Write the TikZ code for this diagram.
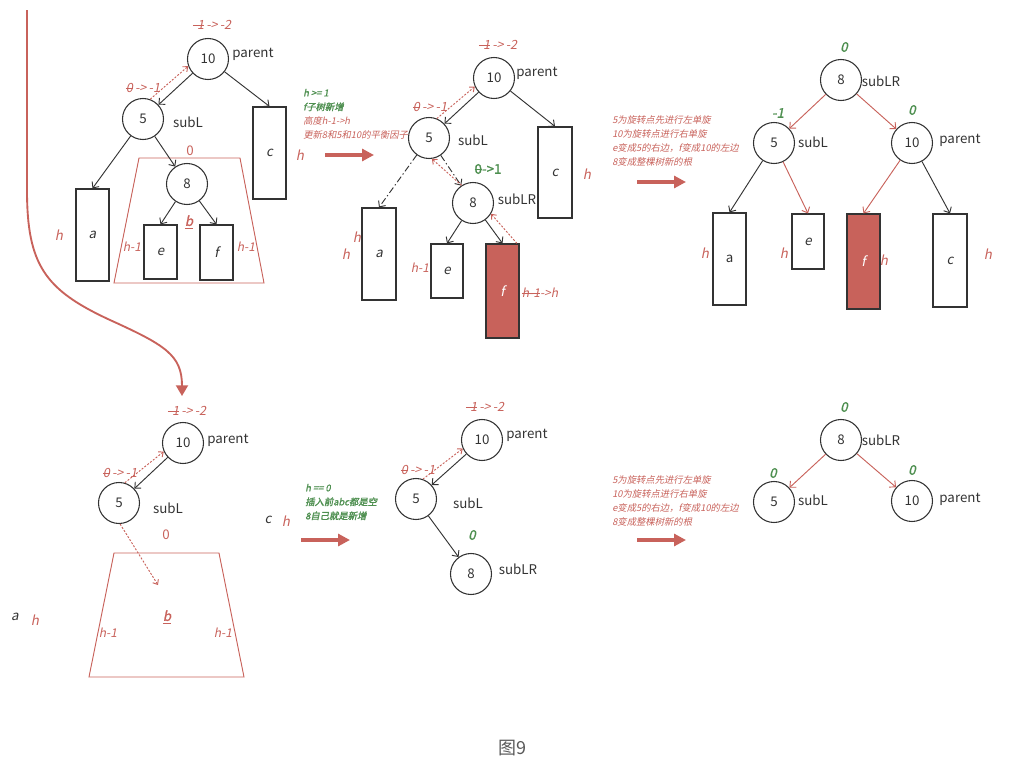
\documentclass[tikz,border=0pt]{standalone}
\usepackage{fontspec}
\setmainfont{Noto Sans CJK SC}[
  ItalicFont=Noto Sans CJK SC, ItalicFeatures={FakeSlant=0.2},
  BoldFont=Noto Sans CJK SC, BoldFeatures={FakeBold=1.5},
  BoldItalicFont=Noto Sans CJK SC, BoldItalicFeatures={FakeSlant=0.2,FakeBold=1.5}]
\usepackage{tikz}
\usetikzlibrary{arrows.meta}
\definecolor{rosso}{HTML}{C8625B}
\definecolor{verde}{HTML}{4E8F50}
\definecolor{ink}{HTML}{333333}
\newcommand{\strk}[1]{\begingroup\setbox0\hbox{#1}%
  \rlap{\rule[0.6ex]{\wd0}{0.5pt}}\box0\endgroup}
\newcommand{\bfchg}[2]{\strk{#1}\,->\,#2}

\begin{document}
\begin{tikzpicture}[
      x=0.75pt, y=-0.75pt,
      font=\fontsize{10}{12}\selectfont,
      nd/.style={circle, draw=ink, line width=0.8pt, minimum size=30.75pt,
                 inner sep=0pt, text=ink},
      sub/.style 2 args={draw=ink, line width=0.9pt, inner sep=0pt,
                 minimum width=#1*0.75pt, minimum height=#2*0.75pt,
                 text=ink, font=\fontsize{10}{12}\selectfont\itshape},
      fsub/.style 2 args={sub={#1}{#2}, fill=rosso, text=white},
      tr/.style={-{Straight Barb[length=3.5pt,width=6.5pt]}, line width=0.7pt, draw=ink},
      rtr/.style={tr, draw=rosso},
      ddtr/.style={tr, dash pattern=on 5pt off 2pt on 1pt off 2pt},
      dtr/.style={-{Straight Barb[length=3pt,width=5pt]}, draw=rosso,
                  dash pattern=on 1.5pt off 1.2pt, line width=0.7pt},
      big/.style={-{Triangle[length=9pt,width=9pt]}, draw=rosso, fill=rosso,
                  line width=2.3pt},
      nm/.style={text=ink},
      bf/.style={font=\fontsize{9.5}{11}\selectfont\itshape, text=rosso},
      ht/.style={font=\fontsize{10}{12}\selectfont\itshape, text=rosso},
      hm/.style={font=\fontsize{9}{11}\selectfont\itshape, text=rosso},
      gn/.style={font=\fontsize{10}{12}\selectfont\bfseries\itshape, text=verde},
      note/.style={font=\fontsize{7}{10.5}\selectfont\itshape, align=left,
                   anchor=west, inner xsep=0pt, text=rosso}
    ]
    \useasboundingbox (0,0) rectangle (1025,778);

    % ---- panel 1: before insertion, h >= 1
    \node[nd] (p1) at (208,59) {10};
    \node[nd] (l1) at (143,119) {5};
    \node[nd] (lr1) at (187,184) {8};
    \node[sub={33}{92}] (a1) at (92.5,235) {a};
    \node[sub={33}{92}] (c1) at (269.5,153) {c};
    \node[sub={33}{54}] (e1) at (160.5,252) {e};
    \node[sub={33}{55}] (f1) at (216.5,252.5) {f};
    \draw[rosso, line width=0.7pt] (139,158) -- (240,158) -- (264,283) -- (114,283) -- cycle;
    \draw[tr] (p1) -- (l1);
    \draw[tr] (p1) -- (c1.north);
    \draw[tr] (l1) -- (a1.north);
    \draw[tr] (l1) -- (lr1);
    \draw[tr] (lr1) -- (e1.north);
    \draw[tr] (lr1) -- (f1.north);
    \draw[dtr] (l1.70) -- (p1.200);
    \node[bf] (bp1) at (212,25) {\bfchg{-1}{-2}};
    \node[bf] (bl1) at (143,88) {\bfchg{0}{-1}};
    \node[nm] (np1) at (253,54) {parent};
    \node[nm] (nl1) at (188,122) {subL};
    \node[text=rosso] (z1) at (190,151) {0};
    \node[font=\fontsize{10}{12}\selectfont\bfseries\itshape, text=rosso] (b1) at (189,222) {\underline{b}};
    \node[ht] (ha1) at (59,235) {h};
    \node[ht] (hc1) at (300,155) {h};
    \node[hm] (he1) at (132,247) {h-1};
    \node[hm] (hf1) at (246,247) {h-1};

    % turn to the lower case
    \coordinate (cv0) at (27,10);
    \coordinate (cv1) at (182,396);
    \draw[rosso, line width=1.4pt, -{Triangle[length=8pt,width=9pt]}]
      (cv0) -- (27,190) .. controls (27,265) and (45,290) .. (110,320)
            .. controls (165,345) and (182,355) .. (cv1);

    % ---- panel 2: f grows to h
    \coordinate (ar2a) at (325,155);
    \coordinate (ar2b) at (374,155);
    \draw[big] (ar2a) -- (ar2b);
    \node[note] (nt2) at (303,114)
      {{\color{verde}\bfseries h >= 1}\\ {\color{verde}\bfseries f子树新增}\\
       高度h-1->h\\ 更新8和5和10的平衡因子};
    \node[nd] (p2) at (494,78) {10};
    \node[nd] (l2) at (429,138) {5};
    \node[nd] (lr2) at (473,203) {8};
    \node[sub={34}{92}] (a2) at (379,254) {a};
    \node[sub={34}{91}] (c2) at (555,172.5) {c};
    \node[sub={32}{54}] (e2) at (447,271) {e};
    \node[fsub={33}{94}] (f2) at (502.5,291) {f};
    \draw[tr] (p2) -- (l2);
    \draw[tr] (p2) -- (c2.north);
    \draw[ddtr] (l2) -- (a2.north);
    \draw[ddtr] (l2) -- (lr2);
    \draw[tr] (lr2) -- (e2.north);
    \draw[tr] (lr2) -- (f2.north);
    \draw[dtr] (l2.68) -- (p2.204);
    \draw[dtr] (lr2.123) -- (l2.-82);
    \draw[dtr] ([xshift=-2pt]f2.north east) -- (lr2.-31);
    \node[bf] (bp2) at (498,45) {\bfchg{-1}{-2}};
    \node[bf] (bl2) at (430,107) {\bfchg{0}{-1}};
    \node[font=\fontsize{10}{12}\selectfont\bfseries, text=verde] (blr2) at (488,169) {\strk{0}->1};
    \node[nm] (np2) at (537,73) {parent};
    \node[nm] (nl2) at (473,140) {subL};
    \node[nm] (nlr2) at (517,199) {subLR};
    \node[ht] (hc2) at (587,174) {h};
    \node[ht] (ha2) at (357,237) {h};
    \node[ht] (ha2b) at (346,254) {h};
    \node[hm] (he2) at (420,268) {h-1};
    \node[hm] (hf2) at (540,293) {\strk{h-1}->h};

    % ---- panel 3: double rotation result
    \coordinate (ar3a) at (637,182);
    \coordinate (ar3b) at (686,182);
    \draw[big] (ar3a) -- (ar3b);
    \node[note] (nt3) at (612,141)
      {5为旋转点先进行左单旋\\ 10为旋转点进行右单旋\\
       e变成5的右边，f变成10的左边\\ 8变成整棵树新的根};
    \node[nd] (lr3) at (841,80) {8};
    \node[nd] (l3) at (774,143) {5};
    \node[nd] (p3) at (912,143) {10};
    \node[sub={33}{92}, font=\fontsize{10}{12}\selectfont] (a3) at (729.5,259) {a};
    \node[sub={32}{55}] (e3) at (808,241.5) {e};
    \node[fsub={33}{95}] (f3) at (863.5,261.5) {f};
    \node[sub={34}{93}] (c3) at (950,260.5) {c};
    \draw[rtr] (lr3) -- (l3);
    \draw[rtr] (lr3) -- (p3);
    \draw[tr] (l3) -- (a3.north);
    \draw[rtr] (l3) -- (e3.north);
    \draw[rtr] (p3) -- (f3.north);
    \draw[tr] (p3) -- (c3.north);
    \node[gn] (blr3) at (844,47) {0};
    \node[gn] (bl3) at (778,113) {-1};
    \node[gn] (bp3) at (912,110) {0};
    \node[nm] (nlr3) at (881,81) {subLR};
    \node[nm] (nl3) at (813,142) {subL};
    \node[nm] (np3) at (960,140) {parent};
    \node[ht] (ha3) at (705,253) {h};
    \node[ht] (he3) at (784,253) {h};
    \node[ht] (hf3) at (884,260) {h};
    \node[ht] (hc3) at (988,254) {h};

    % ---- panel 4: before insertion, h == 0
    \node[nd] (p4) at (183,443) {10};
    \node[nd] (l4) at (119,503) {5};
    \coordinate (bt4) at (158,585);
    \draw[rosso, line width=0.7pt] (114,553) -- (219,553) -- (244,677) -- (89,677) -- cycle;
    \draw[tr] (p4) -- (l4);
    \draw[dtr] (l4.74) -- (p4.204);
    \draw[dtr] (l4.-87) -- (bt4);
    \node[bf] (bp4) at (187,411) {\bfchg{-1}{-2}};
    \node[bf] (bl4) at (120,473) {\bfchg{0}{-1}};
    \node[nm] (np4) at (228,440) {parent};
    \node[nm] (nl4) at (168,508) {subL};
    \node[text=rosso] (z4) at (166,535) {0};
    \node[font=\fontsize{10}{12}\selectfont\bfseries\itshape, text=rosso] (b4) at (167,617) {\underline{b}};
    \node[hm] (hl4) at (108,633) {h-1};
    \node[hm] (hr4) at (223,633) {h-1};
    \node[font=\fontsize{10}{12}\selectfont\itshape, text=ink] (a4) at (268,520) {c};
    \node[ht] (hc4) at (286,521) {h};
    \node[font=\fontsize{10}{12}\selectfont\itshape, text=ink] (c4) at (15,617) {a};
    \node[ht] (ha4) at (35,620) {h};

    % ---- panel 5: 8 itself is new
    \coordinate (ar5a) at (301,540);
    \coordinate (ar5b) at (350,540);
    \draw[big] (ar5a) -- (ar5b);
    \node[note, text=verde, font=\fontsize{7}{10.5}\selectfont\bfseries\itshape] (nt5) at (305,502)
      {h == 0\\ 插入前abc都是空\\ 8自己就是新增};
    \node[nd] (p5) at (482,440) {10};
    \node[nd] (l5) at (416,499) {5};
    \node[nd] (lr5) at (471,574) {8};
    \draw[tr] (p5) -- (l5);
    \draw[tr] (l5) -- (lr5);
    \draw[dtr] (l5.71) -- (p5.204);
    \node[bf] (bp5) at (485,407) {\bfchg{-1}{-2}};
    \node[bf] (bl5) at (418,470) {\bfchg{0}{-1}};
    \node[gn] (blr5) at (472,535) {0};
    \node[nm] (np5) at (527,435) {parent};
    \node[nm] (nl5) at (468,503) {subL};
    \node[nm] (nlr5) at (518,569) {subLR};

    % ---- panel 6: result of the rotations
    \coordinate (ar6a) at (637,540);
    \coordinate (ar6b) at (686,540);
    \draw[big] (ar6a) -- (ar6b);
    \node[note] (nt6) at (612,501)
      {5为旋转点先进行左单旋\\ 10为旋转点进行右单旋\\
       e变成5的右边，f变成10的左边\\ 8变成整棵树新的根};
    \node[nd] (lr6) at (841,440) {8};
    \node[nd] (l6) at (774,502) {5};
    \node[nd] (p6) at (912,501) {10};
    \draw[rtr] (lr6) -- (l6);
    \draw[rtr] (lr6) -- (p6);
    \node[gn] (blr6) at (844,407) {0};
    \node[gn] (bl6) at (773,473) {0};
    \node[gn] (bp6) at (912,470) {0};
    \node[nm] (nlr6) at (881,440) {subLR};
    \node[nm] (nl6) at (813,500) {subL};
    \node[nm] (np6) at (960,499) {parent};

    % caption
    \node[font=\fontsize{13.5}{16}\selectfont, text=black!65] (cap) at (512,748) {图9};
  \end{tikzpicture}
\end{document}
